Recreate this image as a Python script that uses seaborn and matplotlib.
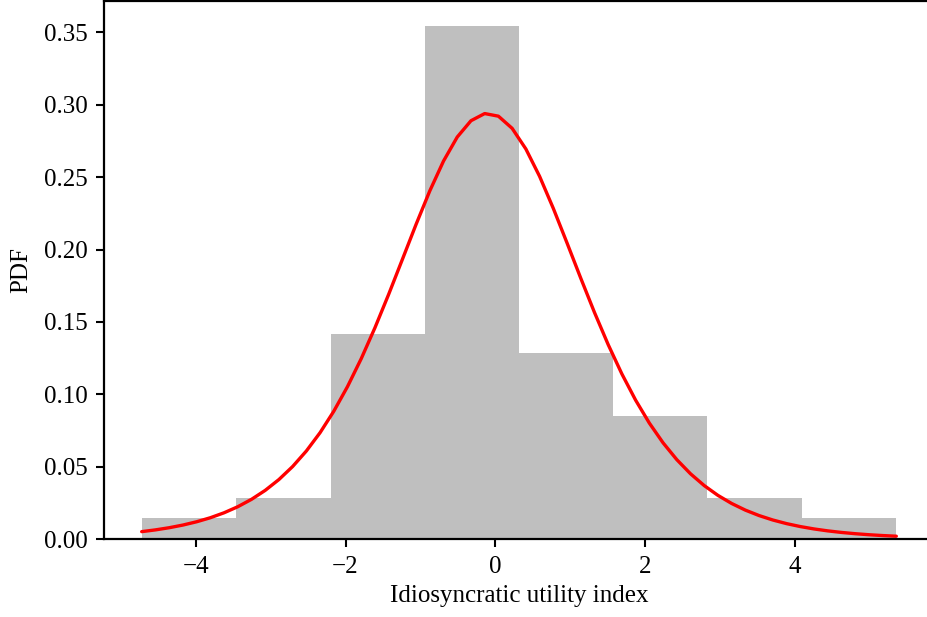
import numpy as np
import pandas as pd
import matplotlib
matplotlib.use("Agg")
import matplotlib.pyplot as plt
import seaborn as sns

# ---- data ----
bin_edges = [-4.72, -3.46, -2.20, -0.94, 0.32, 1.57, 2.83, 4.09, 5.35]
bin_counts = [1, 2, 10, 25, 9, 6, 2, 1]          # 56 observations in total
# fitted logistic density shown as the red curve
fit_loc = -0.10
fit_scale = 0.850
n_curve_points = 56

x_label = "Idiosyncratic utility index"
y_label = "PDF"
x_ticks = [-4, -2, 0, 2, 4]
y_ticks = [0.00, 0.05, 0.10, 0.15, 0.20, 0.25, 0.30, 0.35]

sns.set_theme(style="ticks")
plt.rcParams["font.family"] = ["Liberation Serif", "DejaVu Serif"]
plt.rcParams.update({"text.color": "black", "axes.labelcolor": "black",
                     "xtick.color": "black", "ytick.color": "black",
                     "xtick.labelcolor": "black", "ytick.labelcolor": "black"})

centers = [(a + b) / 2 for a, b in zip(bin_edges[:-1], bin_edges[1:])]
hist_df = pd.DataFrame({"x": centers, "n": bin_counts})

xs = np.linspace(bin_edges[0], bin_edges[-1], n_curve_points)
z = (xs - fit_loc) / fit_scale
pdf = np.exp(-z) / (fit_scale * (1 + np.exp(-z)) ** 2)
curve_df = pd.DataFrame({"x": xs, "pdf": pdf})

fig = plt.figure(figsize=(9.28, 6.17), dpi=100)
ax = fig.add_axes([104 / 928, (617 - 539) / 617, (934 - 104) / 928, (539 - 1) / 617])

sns.histplot(data=hist_df, x="x", weights="n", bins=bin_edges, stat="density",
             color="#bfbfbf", alpha=1.0, edgecolor="none", linewidth=0, ax=ax)
sns.lineplot(data=curve_df, x="x", y="pdf", color="red", linewidth=2.4, ax=ax)

ax.set_xticks(x_ticks)
ax.set_xticklabels([f"\u2212{abs(t)}" if t < 0 else str(t) for t in x_ticks])
ax.set_yticks(y_ticks)
ax.set_yticklabels([f"{t:.2f}" for t in y_ticks])
ax.set_xlim(-5.223, 5.853)
ax.set_ylim(0, 0.3717)
ax.set_xlabel(x_label, fontsize=18, labelpad=5, color="black")
ax.set_ylabel(y_label, fontsize=18, labelpad=8, color="black")
ax.tick_params(labelsize=18, length=6, width=1.5, color="black",
               labelcolor="black", pad=6)
for s in ax.spines.values():
    s.set_linewidth(1.6)
    s.set_color("black")
ax.spines["right"].set_visible(False)

fig.savefig("out.png", dpi=100, facecolor="white")
